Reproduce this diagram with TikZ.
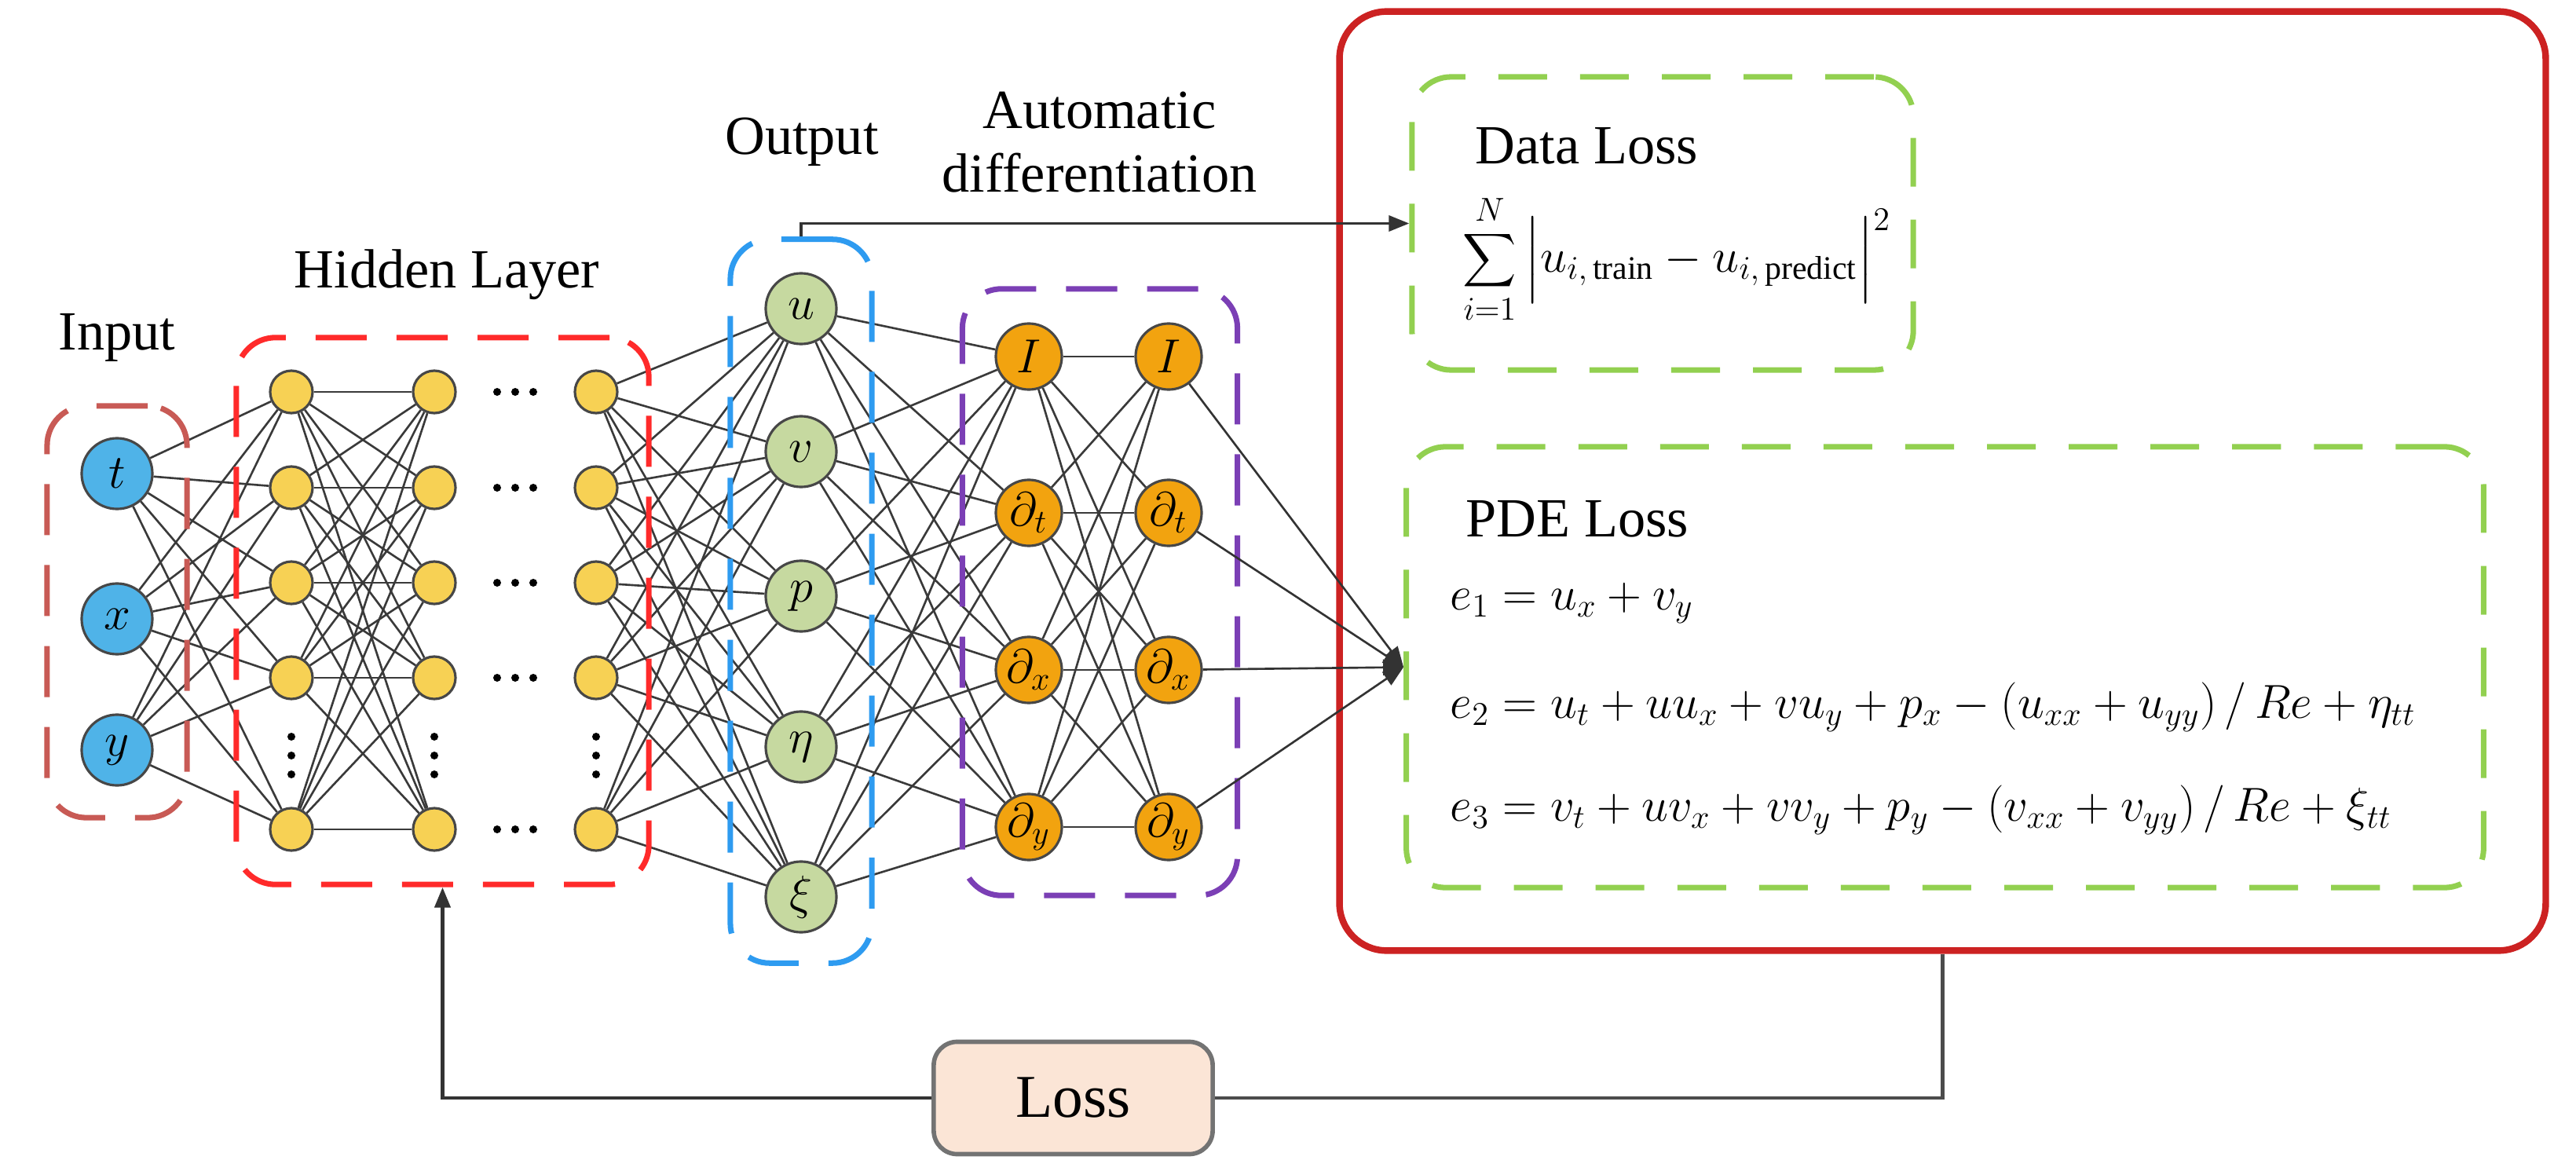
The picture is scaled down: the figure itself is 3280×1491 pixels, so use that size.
\documentclass[tikz,border=0pt]{standalone}
\usepackage{exscale}
\usepackage{fontspec}
\setmainfont{Liberation Serif}
\usetikzlibrary{arrows.meta}
\pgfdeclarelayer{edges}
\pgfdeclarelayer{boxes}
\pgfsetlayers{edges,boxes,main}
\definecolor{inblue}{HTML}{4FB3E8}
\definecolor{hidyel}{HTML}{F7D154}
\definecolor{outgreen}{HTML}{C6D9A0}
\definecolor{adorange}{HTML}{F2A30F}
\definecolor{inbox}{HTML}{C85A55}
\definecolor{hidbox}{HTML}{FF2A2A}
\definecolor{outbox}{HTML}{2E9BF0}
\definecolor{adbox}{HTML}{7B3FB5}
\definecolor{lossgreen}{HTML}{92D050}
\definecolor{bigred}{HTML}{CC2222}
\definecolor{losspeach}{HTML}{FBE5D6}
\definecolor{edgegray}{HTML}{3A3A3A}
\newcommand{\smallsum}{\mathop{\vcenter{\hbox{\scalebox{0.78}{$\displaystyle\sum$}}}}\limits}
\tikzset{
  neuron/.style={circle, draw=black!72, line width=0.9pt, inner sep=0pt, font=\fontsize{18}{18}\selectfont},
  inp/.style={neuron, fill=inblue, minimum size=0.9cm},
  hid/.style={neuron, fill=hidyel, minimum size=0.54cm},
  outn/.style={neuron, fill=outgreen, minimum size=0.9cm},
  adn/.style={neuron, fill=adorange, minimum size=0.84cm},
  conn/.style={draw=edgegray, line width=0.75pt},
  grpbox/.style={draw, rounded corners=0.5cm, line width=2pt, dash pattern=on 0.65cm off 0.38cm, inner sep=0pt},
  greenbox/.style={grpbox, draw=lossgreen, dash pattern=on 0.62cm off 0.42cm},
  lbl/.style={font=\fontsize{20}{23}\selectfont, inner sep=0pt},
  eqn/.style={font=\fontsize{17}{20}\selectfont, inner sep=0pt, anchor=west},
  arr/.style={draw=black!80, line width=1pt, -{Triangle[length=0.26cm,width=0.2cm]}},
  plain/.style={draw=black!70, line width=1.3pt},
  dotmark/.style={fill=black, draw=none, circle, inner sep=0pt, minimum size=0.1cm},
}
\begin{document}
\begin{tikzpicture}[x=0.01cm,y=-0.01cm]
\useasboundingbox (0,0) rectangle (3280,1491);
% ---------- neurons ----------
\foreach \n/\yy/\lab in {1/603/t,2/788/x,3/955/y}
  \node[inp] (i\n) at (149,\yy) {$\lab$};
\foreach \c/\xx in {1/371,2/553,3/759}
  \foreach \r/\yy in {1/499,2/621,3/742,4/863,5/1056}
    \node[hid] (h\c-\r) at (\xx,\yy) {};
\foreach \r/\yy/\lab in {1/393/u,2/575/v,3/759/p,4/951/\eta,5/1142/\xi}
  \node[outn] (o\r) at (1020,\yy) {$\lab$};
\foreach \c/\xx in {1/1310,2/1488}
  \foreach \r/\yy/\lab in {1/454/I,2/653/\partial_t,3/853/\partial_x,4/1053/\partial_y}
    \node[adn] (a\c-\r) at (\xx,\yy) {$\lab$};
% ---------- dots ----------
\foreach \r/\yy in {1/499,2/621,3/742,4/863,5/1056}
  \foreach \k/\xx in {1/633,2/656,3/679}
    \node[dotmark] (hd\r-\k) at (\xx,\yy) {};
\foreach \c/\xx in {1/371,2/553,3/759}
  \foreach \k/\yy in {1/938,2/962,3/986}
    \node[dotmark] (vd\c-\k) at (\xx,\yy) {};
% ---------- labels ----------
\node[lbl] (linput) at (149,430) {Input};
\node[lbl] (lhidden) at (569,350) {Hidden Layer};
\node[lbl] (loutput) at (1021,181) {Output};
\node[lbl, align=center] (lad) at (1400,181) {Automatic\\differentiation};
% ---------- right part ----------
\node[draw=bigred, line width=2.4pt, rounded corners=0.6cm, minimum width=15.35cm, minimum height=11.95cm, inner sep=0pt] (big) at (2473.5,612.5) {};
\node[greenbox, minimum width=6.38cm, minimum height=3.73cm] (dl) at (2117,284.5) {};
\node[greenbox, minimum width=13.71cm, minimum height=5.61cm] (pde) at (2476.5,849.5) {};
\node[lbl, anchor=west] (dltitle) at (1878,186) {Data Loss};
\node[eqn] (dleq) at (1862,330) {$\displaystyle\smallsum_{i=1}^{N}\left|\rule[-0.32cm]{0pt}{0.92cm}u_{i,\,\mathrm{train}}-u_{i,\,\mathrm{predict}}\right|^{2}$};
\node[lbl, anchor=west] (pdetitle) at (1866,661) {PDE Loss};
\node[eqn] (e1) at (1846,768) {$e_1=u_x+v_y$};
\node[eqn] (e2) at (1846,900) {$e_2=u_t+uu_x+vu_y+p_x-\left(u_{xx}+u_{yy}\right)/\,Re+\eta_{tt}$};
\node[eqn] (e3) at (1846,1031) {$e_3=v_t+uv_x+vv_y+p_y-\left(v_{xx}+v_{yy}\right)/\,Re+\xi_{tt}$};
\node[draw=black!55, fill=losspeach, line width=1.6pt, rounded corners=0.3cm, minimum width=3.55cm, minimum height=1.43cm, font=\fontsize{22}{24}\selectfont] (loss) at (1366.5,1398) {Loss};
% ---------- group boxes ----------
\begin{pgfonlayer}{boxes}
\node[grpbox, draw=inbox, minimum width=1.78cm, minimum height=5.24cm] (ibox) at (149,779) {};
\node[grpbox, draw=hidbox, minimum width=5.25cm, minimum height=6.96cm] (hbox) at (563.5,778) {};
\node[grpbox, draw=outbox, minimum width=1.80cm, minimum height=9.21cm] (obox) at (1020,765.5) {};
\node[grpbox, draw=adbox, minimum width=3.50cm, minimum height=7.72cm] (abox) at (1400.5,754) {};
\end{pgfonlayer}
% ---------- connections ----------
\begin{pgfonlayer}{edges}
\foreach \a in {1,2,3} \foreach \b in {1,...,5} \draw[conn] (i\a) -- (h1-\b);
\foreach \a in {1,...,5} \foreach \b in {1,...,5} \draw[conn] (h1-\a) -- (h2-\b);
\foreach \a in {1,...,5} \foreach \b in {1,...,5} \draw[conn] (h3-\a) -- (o\b);
\foreach \a in {1,...,5} \foreach \b in {1,...,4} \draw[conn] (o\a) -- (a1-\b);
\foreach \a in {1,...,4} \foreach \b in {1,...,4} \draw[conn] (a1-\a) -- (a2-\b);
\end{pgfonlayer}
\foreach \a in {1,...,4} \draw[arr, line width=0.75pt] (a2-\a) -- (pde.west);
\draw[arr] (obox.north -| o1.center) |- (dl.west);
\draw[plain] (big.south) |- (loss.east);
\draw[arr, line width=1.3pt] (loss.west) -| (hbox.south);
\end{tikzpicture}
\end{document}
